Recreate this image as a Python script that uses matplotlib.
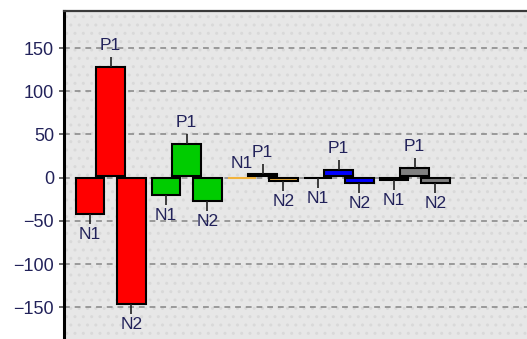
import numpy as np
import matplotlib.pyplot as plt
from matplotlib.patches import Rectangle

plt.rcParams['font.family'] = ['Liberation Sans', 'DejaVu Sans']

# one group per category, three series per group
series_names = ["N1", "P1", "N2"]
n1_values = [-42, -20, 0, -0.6, -2.5]
p1_values = [128.5, 39, 4.3, 9, 11]
n2_values = [-146, -27, -3.5, -6.5, -6.5]
group_colors = ["#ff0000", "#00cc00", "#f2b33d", "#0000ff", "#808080"]

text_color = "#22225a"
bar_width = 0.375
step = 0.27          # shift between series inside a group
p1_lift = 2          # positive bars sit a little above the zero line

fig = plt.figure(figsize=(5.27, 3.39), dpi=100)
ax = fig.add_axes([64 / 527, 0, 1 - 64 / 527, 1 - 11 / 339])
ax.set_facecolor("#e7e7e7")

# speckled panel background
ax.add_patch(Rectangle((0, 0), 1, 1, transform=ax.transAxes, facecolor="none",
                       edgecolor="#d9d9d9", hatch="..", linewidth=0, zorder=0))

ax.set_ylim(-186.7, 192.9)
ax.set_xlim(-0.615, 5.477)
ax.set_yticks([-150, -100, -50, 0, 50, 100, 150])
ax.yaxis.grid(True, color="#858585", linestyle=(0, (3.8, 3.2)), linewidth=1.1)
ax.set_axisbelow(True)

groups = np.arange(len(group_colors))
tick_len = 11.5      # data units of the little leader line
for i, g in enumerate(groups):
    vals = [n1_values[i], p1_values[i], n2_values[i]]
    for s, (name, v) in enumerate(zip(series_names, vals)):
        xc = g + (s - 1) * step
        if name == "P1":
            bottom, height = p1_lift, v - p1_lift
        else:
            bottom, height = 0, v
        edge = "black"
        if v == 0:
            edge = group_colors[i]
        ax.bar(xc, height, bottom=bottom, width=bar_width, color=group_colors[i],
               edgecolor=edge, linewidth=1.5, zorder=3)
        end = bottom + height
        if v > 0:
            ax.vlines(xc, end, end + tick_len, color="#202020", linewidth=1.2, zorder=3)
            ax.annotate(name, (xc, end + tick_len), xytext=(0, 4), textcoords="offset pixels",
                        ha="center", va="bottom", fontsize=12.5, color=text_color, zorder=4)
        elif v == 0:
            ax.annotate(name, (xc, end), xytext=(0, 7), textcoords="offset pixels",
                        ha="center", va="bottom", fontsize=12.5, color=text_color, zorder=4)
        else:
            ax.vlines(xc, end, end - tick_len, color="#202020", linewidth=1.2, zorder=3)
            ax.annotate(name, (xc, end - tick_len), xytext=(0, -3), textcoords="offset pixels",
                        ha="center", va="top", fontsize=12.5, color=text_color, zorder=4)

ax.set_xticks([])
ax.tick_params(axis="y", length=3.6, width=1.1, pad=3.6, color="#404040",
               labelsize=13, labelcolor=text_color)
for side in ["right", "bottom"]:
    ax.spines[side].set_visible(False)
ax.spines["left"].set_linewidth(2.2)
ax.spines["left"].set_color("black")
ax.spines["top"].set_linewidth(1.6)
ax.spines["top"].set_color("#3a3a3a")

fig.savefig("out.png", dpi=100)
